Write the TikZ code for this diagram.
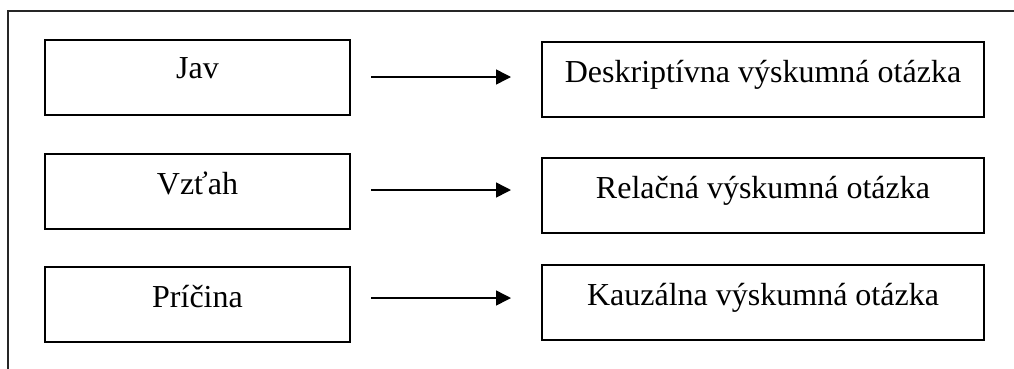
\documentclass[tikz,border=0pt]{standalone}
\usepackage{fontspec}
\setmainfont{Liberation Serif}
\usetikzlibrary{arrows.meta}
\begin{document}
\begin{tikzpicture}[x=1pt,y=-1pt,
  box/.style={draw=black,line width=2pt,rectangle,inner sep=0pt,
    minimum height=75pt,font=\fontsize{32}{38}\selectfont,
    text height=22pt,text depth=16pt},
  lbox/.style={box,minimum width=305pt},
  rbox/.style={box,minimum width=442pt},
  arr/.style={line width=1.5pt,-{Triangle[length=15pt,width=15pt]},
    shorten <=20pt,shorten >=30pt}]
\useasboundingbox (0,0) rectangle (1014,368);
\begin{scope}
\clip (0,0) rectangle (1014,368);
\draw[line width=1.5pt,black!85] (8,11) rectangle (1030,390);
\end{scope}
\node[lbox,text depth=21pt] (jav) at (197.5,77.5) {Jav};
\node[lbox] (vztah) at (197.5,191.5) {Vzťah};
\node[lbox] (pricina) at (197.5,304.5) {Príčina};
\node[rbox] (desk) at (763,79.5) {Deskriptívna výskumná otázka};
\node[rbox] (rel) at (763,195.5) {Relačná výskumná otázka};
\node[rbox] (kauz) at (763,302.5) {Kauzálna výskumná otázka};
\draw[arr] ([yshift=0.5pt]jav.east) -- ([yshift=0.5pt]jav.east -| desk.west);
\draw[arr] ([yshift=1.5pt]vztah.east) -- ([yshift=1.5pt]vztah.east -| rel.west);
\draw[arr] ([yshift=6.5pt]pricina.east) -- ([yshift=6.5pt]pricina.east -| kauz.west);
\end{tikzpicture}
\end{document}
